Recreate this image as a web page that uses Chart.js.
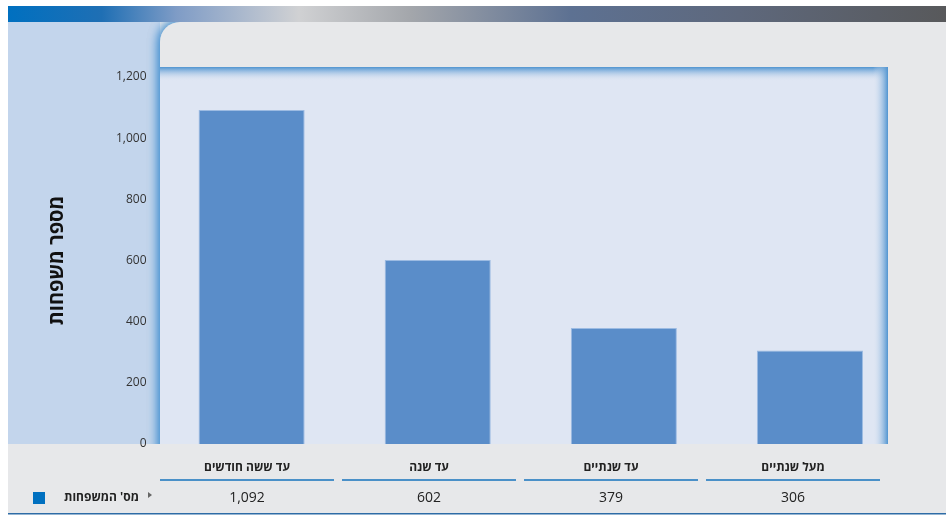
<!DOCTYPE html>
<html lang="he">
<head>
<meta charset="utf-8">
<script src="https://cdn.jsdelivr.net/npm/chart.js@4.4.1/dist/chart.umd.min.js"></script>
<style>
  html, body { margin: 0; padding: 0; background: #ffffff; }
  #myChart { display: block; }
</style>
</head>
<body>
<canvas id="myChart" width="946" height="516"></canvas>
<script>
// data
let categories = ['עד ששה חודשים', 'עד שנה', 'עד שנתיים', 'מעל שנתיים'];
let families = [1092, 602, 379, 306];
let y_ticks = [0, 200, 400, 600, 800, 1000, 1200];
let series_label = "מס' המשפחות";
let axis_title = 'מספר משפחות';

const FONT = "'Open Sans', 'Liberation Sans', 'DejaVu Sans', sans-serif";

// backgrounds: header bar, side panel, plot panel with glow
const backdrop = {
    id: 'backdrop',
    beforeDraw(chart) {
        let ctx = chart.ctx;
        let area = chart.chartArea;
        let W = chart.width;
        ctx.save();
        ctx.fillStyle = '#ffffff';
        ctx.fillRect(0, 0, W, chart.height);

        // header gradient bar
        let g = ctx.createLinearGradient(8, 0, W, 0);
        g.addColorStop(0, '#0070c0');
        g.addColorStop(0.10, '#1f6fb4');
        g.addColorStop(0.18, '#7f9cc6');
        g.addColorStop(0.31, '#d0d1d3');
        g.addColorStop(0.43, '#a3a6ab');
        g.addColorStop(0.6, '#5d7192');
        g.addColorStop(0.78, '#5e687c');
        g.addColorStop(1, '#58595b');
        ctx.fillStyle = g;
        ctx.fillRect(8, 6, W - 8, 16);

        // grey body
        ctx.fillStyle = '#e7e8ea';
        ctx.fillRect(8, 22, W - 8, 491);
        ctx.fillStyle = '#2e6ca6';
        ctx.fillRect(8, 513, W - 8, 1.5);

        // light blue side panel
        ctx.fillStyle = '#c3d5ec';
        ctx.fillRect(8, 22, 152, 422);

        // grey rounded shape with blue glow on the panel
        ctx.save();
        ctx.beginPath();
        ctx.rect(8, 22, W - 8, 422);
        ctx.clip();
        ctx.shadowColor = '#3d8ccf';
        ctx.shadowBlur = 12;
        ctx.fillStyle = '#e7e8ea';
        for (let k = 0; k < 2; k++) {
            ctx.beginPath();
            ctx.roundRect(160, 22, W, 440, [20, 0, 0, 0]);
            ctx.fill();
        }
        ctx.restore();

        // plot panel
        let px0 = 160, px1 = 888, py0 = 67, py1 = area.bottom;
        ctx.fillStyle = '#dfe6f3';
        ctx.fillRect(px0, py0, px1 - px0, py1 - py0);
        let gt = ctx.createLinearGradient(0, py0, 0, py0 + 14);
        gt.addColorStop(0, 'rgba(80,148,208,1)');
        gt.addColorStop(1, 'rgba(223,230,243,0)');
        ctx.fillStyle = gt;
        ctx.fillRect(px0, py0, px1 - px0, 14);
        let gr = ctx.createLinearGradient(px1 - 15, 0, px1, 0);
        gr.addColorStop(0, 'rgba(223,230,243,0)');
        gr.addColorStop(1, 'rgba(80,148,208,1)');
        ctx.fillStyle = gr;
        ctx.fillRect(px1 - 15, py0, 15, py1 - py0);
        ctx.restore();
    }
};

// data table under the plot
const dataTable = {
    id: 'dataTable',
    afterDraw(chart) {
        let ctx = chart.ctx;
        let colLeft = 160, colW = 182;
        ctx.save();
        ctx.textAlign = 'center';
        ctx.textBaseline = 'middle';
        categories.forEach((c, i) => {
            let cx = colLeft + colW * i + 87;
            ctx.fillStyle = '#222222';
            ctx.font = 'bold 12px ' + FONT;
            ctx.fillText(c, cx, 468);
            ctx.fillStyle = '#4a90c8';
            ctx.fillRect(cx - 87, 479, 174, 2);
            ctx.fillStyle = '#222222';
            ctx.font = '14px ' + FONT;
            ctx.fillText(families[i].toLocaleString('en-US'), cx, 498);
        });
        // legend row
        ctx.fillStyle = '#0070c0';
        ctx.fillRect(33, 492, 12, 12);
        ctx.fillStyle = '#222222';
        ctx.font = 'bold 12px ' + FONT;
        ctx.textAlign = 'right';
        ctx.fillText(series_label, 139, 498);
        ctx.fillStyle = '#666666';
        ctx.beginPath();
        ctx.moveTo(148, 492);
        ctx.lineTo(152, 495);
        ctx.lineTo(148, 498);
        ctx.closePath();
        ctx.fill();
        ctx.restore();
    }
};

let ctx = document.getElementById('myChart');
let chart = new Chart(ctx, {
    type: 'bar',
    data: {
        labels: categories,
        datasets: [
            {
                label: series_label,
                data: families,
                backgroundColor: '#5a8dc9',
                borderColor: '#9cbbe2',
                borderWidth: 1,
                barPercentage: 0.57,
                categoryPercentage: 1.0
            }
        ]
    },
    options: {
        responsive: false,
        animation: false,
        layout: { padding: { left: 5, top: 77, right: 43, bottom: 72 } },
        scales: {
            x: { display: false },
            y: {
                min: 0,
                max: 1200,
                afterBuildTicks: (axis) => { axis.ticks = y_ticks.map(v => ({ value: v })); },
                grid: { display: false },
                border: { display: false },
                ticks: {
                    padding: 4,
                    color: '#333333',
                    font: { size: 12, family: FONT },
                    callback: (v) => v.toLocaleString('en-US')
                },
                title: {
                    display: true,
                    text: axis_title,
                    color: '#111111',
                    font: { size: 20, weight: 'bold', family: FONT },
                    padding: { top: 40, bottom: 43 }
                }
            }
        },
        plugins: {
            legend: { display: false },
            tooltip: { enabled: false }
        }
    },
    plugins: [backdrop, dataTable]
});
</script>
</body>
</html>
